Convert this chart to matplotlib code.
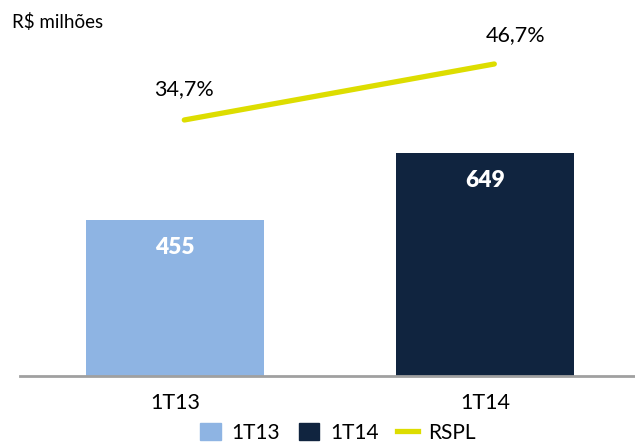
import matplotlib
matplotlib.use("Agg")
import matplotlib.pyplot as plt
from matplotlib.lines import Line2D
from matplotlib.patches import Patch

# Data
categories = ["1T13", "1T14"]
revenue = [455, 649]
rspl = [34.7, 46.7]
rspl_labels = ["34,7%", "46,7%"]

light_blue = "#8EB4E3"
dark_navy = "#10243F"
yellow = "#DDDD00"

plt.rcParams['font.family'] = ['Lato', 'DejaVu Sans']

W, H = 635, 445
fig = plt.figure(figsize=(W / 100, H / 100), dpi=100)

# Axes: baseline at y=376 px, spanning x from 20 px to the right edge
ax = fig.add_axes([20 / W, (H - 376) / H, 620 / W, 376 / H])
ax.set_xlim(-0.5, 1.5)
ax.set_ylim(0, 1096)

x = list(range(len(categories)))
bars = ax.bar(x, revenue, width=0.575, color=[light_blue, dark_navy])

for xi, v in zip(x, revenue):
    ax.text(xi, v - 80, str(v), ha="center", va="center", color="white",
            fontsize=16.5, fontweight="heavy")

for side in ["left", "right", "top"]:
    ax.spines[side].set_visible(False)
ax.spines["bottom"].set_color("#A0A0A0")
ax.spines["bottom"].set_linewidth(2)
ax.set_yticks([])
ax.set_xticks(x)
ax.set_xticklabels(categories, fontsize=15.5)
ax.tick_params(axis="x", length=0, pad=12)

# Secondary axis for RSPL line
ax2 = ax.twinx()
ax2.set_ylim(-20.16, 60.41)
ax2.set_xlim(-0.5, 1.5)
ax2.axis("off")
line_x = [xi + 0.03 for xi in x]
ax2.plot(line_x, rspl, color=yellow, linewidth=3.8, solid_capstyle="round")
ax2.text(line_x[0], rspl[0] + 6.6, rspl_labels[0], ha="center", va="center", fontsize=15.5)
ax2.text(line_x[1] + 0.07, rspl[1] + 6.2, rspl_labels[1], ha="center", va="center", fontsize=15.5)

fig.text(12 / W, 1 - 22 / H, "R$ milhões", ha="left", va="center", fontsize=13.5)

handles = [Patch(color=light_blue), Patch(color=dark_navy),
           Line2D([0], [0], color=yellow, linewidth=3.8)]
fig.legend(handles, ["1T13", "1T14", "RSPL"], loc="center",
           bbox_to_anchor=(338 / W, 1 - 433 / H), ncol=3, frameon=False,
           fontsize=15, handlelength=1.0, handleheight=0.9, handletextpad=0.5,
           columnspacing=0.9, borderpad=0)

fig.savefig("out.png", dpi=100)
